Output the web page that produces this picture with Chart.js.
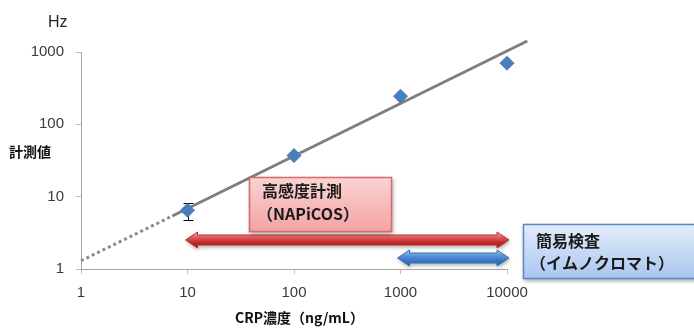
<!DOCTYPE html>
<html>
<head>
<meta charset="utf-8">
<script src="https://cdn.jsdelivr.net/npm/chart.js@4/dist/chart.umd.min.js"></script>
<style>
  html, body { margin: 0; padding: 0; background: #fff; }
  #wrap { position: relative; width: 694px; height: 329px; }
</style>
</head>
<body>
<div id="wrap"><canvas id="c" width="694" height="329"></canvas></div>
<script>
// CRP concentration (ng/mL) vs measured frequency (Hz)
const concentrations = [10, 100, 1000, 10000];
const measured = [6.5, 37, 245, 700];
const errLow = [4.8, null, null, null];
const errHigh = [8.3, null, null, null];

// Fitted power-law trend: dotted extrapolation + solid fitted range
const trendDotX = [1, 7.2];
const trendDotY = [1.3, 5.4];
const trendX = [7.2, 15500];
const trendY = [5.4, 1420];

const xTicks = [1, 10, 100, 1000, 10000];
const yTicks = [1, 10, 100, 1000];

// Measurement ranges (ng/mL)
const rangeHigh = [10, 10000];   // 高感度計測
const rangeQuick = [1000, 10000]; // 簡易検査

const toPts = (xs, ys) => xs.map((x, i) => ({ x, y: ys[i] }));

const tickFont = { family: '"Liberation Sans", Arial, sans-serif', size: 15 };
const jp = '"Noto Sans CJK JP", sans-serif';

function arrowPath(ctx, x0, x1, y, hb, hh, hl) {
  ctx.beginPath();
  ctx.moveTo(x0, y);
  ctx.lineTo(x0 + hl, y - hh);
  ctx.lineTo(x0 + hl, y - hb);
  ctx.lineTo(x1 - hl, y - hb);
  ctx.lineTo(x1 - hl, y - hh);
  ctx.lineTo(x1, y);
  ctx.lineTo(x1 - hl, y + hh);
  ctx.lineTo(x1 - hl, y + hb);
  ctx.lineTo(x0 + hl, y + hb);
  ctx.lineTo(x0 + hl, y + hh);
  ctx.closePath();
}

function drawArrow(ctx, x0, x1, y, stops, stroke) {
  const hb = 5, hh = 8, hl = 12;
  ctx.save();
  const g = ctx.createLinearGradient(0, y - hh, 0, y + hh);
  stops.forEach((c, i) => g.addColorStop(i / (stops.length - 1), c));
  ctx.shadowColor = 'rgba(0,0,0,0.35)';
  ctx.shadowBlur = 4;
  ctx.shadowOffsetX = 1;
  ctx.shadowOffsetY = 2;
  arrowPath(ctx, x0, x1, y, hb, hh, hl);
  ctx.fillStyle = g;
  ctx.fill();
  ctx.shadowColor = 'transparent';
  ctx.strokeStyle = stroke;
  ctx.lineWidth = 1;
  ctx.stroke();
  ctx.restore();
}

function drawBox(ctx, x, y, w, h, top, bottom, stroke, lines, tx, ty) {
  ctx.save();
  const g = ctx.createLinearGradient(0, y, 0, y + h);
  g.addColorStop(0, top);
  g.addColorStop(1, bottom);
  ctx.shadowColor = 'rgba(0,0,0,0.35)';
  ctx.shadowBlur = 4;
  ctx.shadowOffsetX = 1;
  ctx.shadowOffsetY = 2;
  ctx.fillStyle = g;
  ctx.fillRect(x, y, w, h);
  ctx.shadowColor = 'transparent';
  ctx.strokeStyle = stroke;
  ctx.lineWidth = 1.5;
  ctx.strokeRect(x + 0.5, y + 0.5, w - 1, h - 1);
  ctx.fillStyle = '#1a1a1a';
  ctx.font = 'bold 16px ' + jp;
  ctx.textBaseline = 'middle';
  ctx.textAlign = 'left';
  lines.forEach((t, i) => ctx.fillText(t, tx[i], ty[i]));
  ctx.restore();
}

const overlay = {
  id: 'overlay',
  beforeDatasetsDraw(chart) {
    const { ctx, scales: { x, y } } = chart;
    // error bar on the first point, beneath the markers
    ctx.save();
    ctx.strokeStyle = '#000';
    ctx.lineWidth = 1;
    concentrations.forEach((c, i) => {
      if (errLow[i] == null) return;
      const px = Math.round(x.getPixelForValue(c)) + 0.5;
      const yl = Math.round(y.getPixelForValue(errLow[i])) + 0.5;
      const yh = Math.round(y.getPixelForValue(errHigh[i])) + 0.5;
      ctx.beginPath();
      ctx.moveTo(px, yl); ctx.lineTo(px, yh);
      ctx.moveTo(px - 5, yl); ctx.lineTo(px + 5, yl);
      ctx.moveTo(px - 5, yh); ctx.lineTo(px + 5, yh);
      ctx.stroke();
    });
    ctx.restore();
  },
  afterDraw(chart) {
    const { ctx, scales: { x, y } } = chart;
    // axis captions
    ctx.save();
    ctx.fillStyle = '#262626';
    ctx.font = '16px "Liberation Sans", Arial, sans-serif';
    ctx.textAlign = 'left';
    ctx.textBaseline = 'middle';
    ctx.fillText('Hz', 48, 23);
    ctx.fillStyle = '#111';
    ctx.font = 'bold 14px ' + jp;
    ctx.fillText('計測値', 9, 152);
    ctx.fillText('CRP濃度（ng/mL）', 235, 318);
    ctx.restore();

    // measurement-range arrows
    const yR = 240, yB = 258;
    drawArrow(ctx, x.getPixelForValue(rangeHigh[0]) - 2, x.getPixelForValue(rangeHigh[1]) + 2, yR,
      ['#f7b3b3', '#e05a5a', '#c42828', '#9e1c1c'], '#b83030');
    drawArrow(ctx, x.getPixelForValue(rangeQuick[0]) - 3, x.getPixelForValue(rangeQuick[1]) + 2, yB,
      ['#b4d3f5', '#5d95da', '#3a76c4', '#2a5a9e'], '#3b6eb0');

    // range captions
    drawBox(ctx, 249, 177, 143, 55, '#fbd3d3', '#f3a3a3', '#d86a6a',
      ['高感度計測', '（NAPiCOS）'], [262, 257], [191, 214]);
    drawBox(ctx, 523, 224, 180, 55, '#e3edfb', '#a9c6ef', '#5a88c8',
      ['簡易検査', '（イムノクロマト）'], [536, 530], [241, 263]);
  }
};

new Chart(document.getElementById('c'), {
  type: 'scatter',
  data: {
    datasets: [
      {
        data: toPts(trendDotX, trendDotY),
        showLine: true,
        borderColor: '#8c8c8c',
        borderWidth: 3,
        borderDash: [3, 3],
        pointRadius: 0,
        clip: false,
        order: 2
      },
      {
        data: toPts(trendX, trendY),
        showLine: true,
        borderColor: '#7f7f7f',
        borderWidth: 3,
        pointRadius: 0,
        clip: false,
        order: 1
      },
      {
        data: toPts(concentrations, measured),
        pointStyle: 'rectRot',
        pointRadius: 7,
        pointBackgroundColor: '#4a7ebb',
        pointBorderColor: '#4a7ebb',
        pointBorderWidth: 1,
        showLine: false,
        clip: false,
        order: 0
      }
    ]
  },
  options: {
    responsive: false,
    animation: false,
    layout: { padding: { top: 52, right: 187, left: 0, bottom: 0 } },
    plugins: { legend: { display: false }, tooltip: { enabled: false } },
    scales: {
      x: {
        type: 'logarithmic',
        min: 1, max: 10000,
        afterBuildTicks: s => { s.ticks = xTicks.map(v => ({ value: v })); },
        afterFit: s => { s.height = 60; },
        ticks: { font: tickFont, color: '#3a3a3a', padding: 10, callback: v => String(v), maxRotation: 0 },
        grid: { drawOnChartArea: false, drawTicks: true, tickLength: 5, color: '#bfbfbf' },
        border: { color: '#a6a6a6', width: 1 }
      },
      y: {
        type: 'logarithmic',
        min: 1, max: 1000,
        afterBuildTicks: s => { s.ticks = yTicks.map(v => ({ value: v })); },
        afterFit: s => { s.width = 81; },
        ticks: { font: tickFont, color: '#3a3a3a', padding: 12, callback: v => String(v) },
        grid: { drawOnChartArea: false, drawTicks: true, tickLength: 5, color: '#bfbfbf' },
        border: { color: '#a6a6a6', width: 1 }
      }
    }
  },
  plugins: [overlay]
});
</script>
</body>
</html>
